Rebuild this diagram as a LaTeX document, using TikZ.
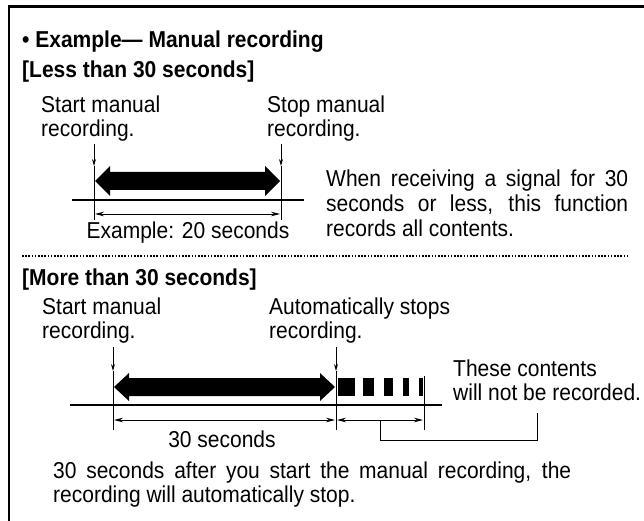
\documentclass[tikz,border=0pt]{standalone}
\usepackage{fontspec}
\setmainfont{Liberation Sans}[FakeStretch=0.913]
\usetikzlibrary{arrows.meta}
\tolerance=9999

\begin{document}
\begin{tikzpicture}[x=1bp, y=-1bp,
        every node/.style={inner sep=0pt, font=\fontsize{23bp}{24bp}\selectfont},
        heading/.style={anchor=base west, font=\fontsize{23bp}{24bp}\selectfont\bfseries},
        label/.style={anchor=north west, align=left},
        para/.style={anchor=north west, align=justify, font=\fontsize{23bp}{25bp}\selectfont},
        tick/.style={line width=0.8bp},
        pointer/.style={line width=0.8bp, -{Stealth[length=7bp, width=4bp]}},
        span/.style={line width=0.8bp, {Stealth[length=9bp, width=4.5bp]}-{Stealth[length=9bp, width=4.5bp]}},
        baseline/.style={line width=2.6bp}]
        \useasboundingbox (0, 0) rectangle (644, 521);

        % Frame, open to the right and bottom
        \draw[line width=2.3bp] (9, 521) -- (9, 6.5) -- (644, 6.5);

        \node[heading] (title) at (22, 48) {• Example— Manual recording};
        \node[heading] (lesshead) at (22, 78) {[Less than 30 seconds]};

        % Less than 30 seconds {{{
        \node[label] (startA) at (41, 96) {Start manual\\recording.};
        \node[label] (stopA) at (267, 96) {Stop manual\\recording.};

        \coordinate (startAtop) at (94, 144);  \coordinate (startAmark) at (94, 166);
        \coordinate (stopAtop) at (281, 144);  \coordinate (stopAmark) at (281, 166);
        \draw[pointer] (startAtop) -- (startAmark);
        \draw[pointer] (stopAtop) -- (stopAmark);
        \draw[tick] (startAmark) -- (94, 220) (stopAmark) -- (281, 220);

        \fill (95, 181) -- (110, 166) -- (110, 172) -- (265, 172) -- (265, 166) -- (280, 181)
                -- (265, 196) -- (265, 190) -- (110, 190) -- (110, 196) -- cycle;
        \draw[baseline] (72, 200) -- (304, 200);
        \coordinate (spanAl) at (95, 214);  \coordinate (spanAr) at (280, 214);
        \draw[span] (spanAl) -- (spanAr);
        \node[anchor=base] (spanAtext) at (188, 239) {Example: 20 seconds};

        \node[para, text width=302bp] (noteA) at (326, 170)
                {When receiving a signal for 30 seconds or less, this function records all contents.};
        % }}}

        \draw[line width=1.6bp, dash pattern=on 1.6bp off 1.6bp] (22, 256) -- (628, 256);

        % More than 30 seconds {{{
        \node[heading] (morehead) at (22, 285) {[More than 30 seconds]};
        \node[label] (startB) at (42, 298) {Start manual\\recording.};
        \node[label] (stopB) at (269, 298) {Automatically stops\\recording.};

        \coordinate (startBtop) at (113, 347);  \coordinate (startBmark) at (113, 371);
        \coordinate (stopBtop) at (336, 347);  \coordinate (stopBmark) at (336, 371);
        \draw[pointer] (startBtop) -- (startBmark);
        \draw[pointer] (stopBtop) -- (stopBmark);
        \draw[tick] (startBmark) -- (113, 430) (stopBmark) -- (336, 430) (424, 376) -- (424, 430);

        \fill (114, 387) -- (129, 373) -- (129, 378) -- (320, 378) -- (320, 373) -- (335, 387)
                -- (320, 401) -- (320, 396) -- (129, 396) -- (129, 401) -- cycle;
        \foreach \a/\b in {338/355, 363/374, 384/393, 403/409, 419/423}
                \fill (\a, 378) rectangle (\b, 396);
        \draw[baseline] (70, 405) -- (442, 405);

        \coordinate (spanBl) at (114, 420);  \coordinate (spanBm) at (337, 420);  \coordinate (spanBr) at (423, 420);
        \draw[span] (spanBl) -- (335, 420);
        \draw[span] (spanBm) -- (spanBr);
        \node[anchor=base] (spanBtext) at (222, 447) {30 seconds};

        \node[label] (lost) at (453, 360) {These contents\\will not be recorded.};
        \coordinate (bracket) at (380, 420);
        \draw[tick] (bracket) -- (380, 440) -| ([xshift=-10bp, yshift=-12bp]lost.south);

        \node[para, font=\fontsize{23bp}{24bp}\selectfont, text width=518bp] (noteB) at (53, 462)
                {30 seconds after you start the manual recording, the recording will automatically stop.};
        % }}}
\end{tikzpicture}
\end{document}
